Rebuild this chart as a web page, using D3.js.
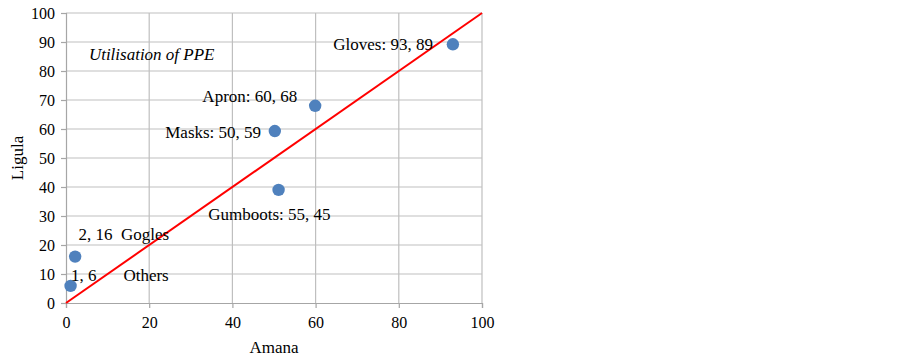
<!DOCTYPE html>
<html><head><meta charset="utf-8">
<script src="https://cdn.jsdelivr.net/npm/d3@7"></script>
<style>body{margin:0;background:#fff}</style>
</head><body>
<svg id="c" width="903" height="357"></svg>
<script>
const xTicks = [0,20,40,60,80,100];
const yTicks = [0,10,20,30,40,50,60,70,80,90,100];
const names = ["Others","Gogles","Masks","Gumboots","Apron","Gloves"];
const amana = [1.1, 2.2, 50.2, 51.1, 59.9, 93];
const ligula = [5.9, 16, 59.3, 39, 68, 89.2];
// annotation texts and their anchor positions (data units)
const labelText = ["1, 6","Others","2, 16  Gogles","Masks: 50, 59","Gumboots: 55, 45","Apron: 60, 68","Gloves: 93, 89","Utilisation of PPE"];
const labelX = [1.2, 13.8, 3.0, 46.9, 34.2, 55.6, 88.2, 5.5];
const labelY = [9.5, 9.5, 23.7, 59.0, 30.8, 71.2, 89.2, 86.0];
const labelAnchor = ["start","start","start","end","start","end","end","start"];

const svg = d3.select("#c");
const x = d3.scaleLinear().domain([0,100]).range([66,482]);
const y = d3.scaleLinear().domain([0,100]).range([303,13]);
const font = "'Liberation Serif', 'Times New Roman', serif";

// grid
svg.append("g").selectAll("line.v").data(xTicks.slice(1)).join("line")
  .attr("x1",d=>x(d)).attr("x2",d=>x(d)).attr("y1",y(0)).attr("y2",y(100))
  .attr("stroke","#bfbfbf").attr("stroke-width",1.2);
svg.append("g").selectAll("line.h").data(yTicks.slice(1)).join("line")
  .attr("x1",x(0)).attr("x2",x(100)).attr("y1",d=>y(d)).attr("y2",d=>y(d))
  .attr("stroke","#bfbfbf").attr("stroke-width",1.2);

// axes
const xa = svg.append("g").attr("transform",`translate(0,${y(0)})`)
  .call(d3.axisBottom(x).tickValues(xTicks).tickSize(5).tickPadding(9));
const ya = svg.append("g").attr("transform",`translate(${x(0)},0)`)
  .call(d3.axisLeft(y).tickValues(yTicks).tickSize(5).tickPadding(6));
[xa,ya].forEach(a=>{
  a.select(".domain").attr("stroke","#a6a6a6").attr("stroke-width",1.2);
  a.selectAll(".tick line").attr("stroke","#a6a6a6").attr("stroke-width",1.2);
  a.selectAll(".tick text").attr("font-family",font).attr("font-size",16).attr("fill","#000");
});

// red diagonal
svg.append("line").attr("x1",x(0)).attr("y1",y(0)).attr("x2",x(100)).attr("y2",y(100))
  .attr("stroke","#ff0000").attr("stroke-width",2);

// points
svg.append("g").selectAll("circle").data(amana).join("circle")
  .attr("cx",d=>x(d)).attr("cy",(d,i)=>y(ligula[i])).attr("r",6.2)
  .attr("fill","#4f81bd");

// labels
svg.append("g").selectAll("text").data(labelText).join("text")
  .attr("x",(d,i)=>x(labelX[i])).attr("y",(d,i)=>y(labelY[i]))
  .attr("dy","0.35em")
  .attr("text-anchor",(d,i)=>labelAnchor[i])
  .attr("font-family",font).attr("font-size",17)
  .attr("font-style",(d,i)=>i===labelText.length-1?"italic":"normal")
  .style("white-space","pre")
  .text(d=>d);

// axis titles
svg.append("text").attr("x",(x(0)+x(100))/2).attr("y",353).attr("text-anchor","middle")
  .attr("font-family",font).attr("font-size",17).text("Amana");
svg.append("text").attr("transform",`translate(23,${(y(0)+y(100))/2}) rotate(-90)`)
  .attr("text-anchor","middle").attr("font-family",font).attr("font-size",17).text("Ligula");
</script>
</body></html>
